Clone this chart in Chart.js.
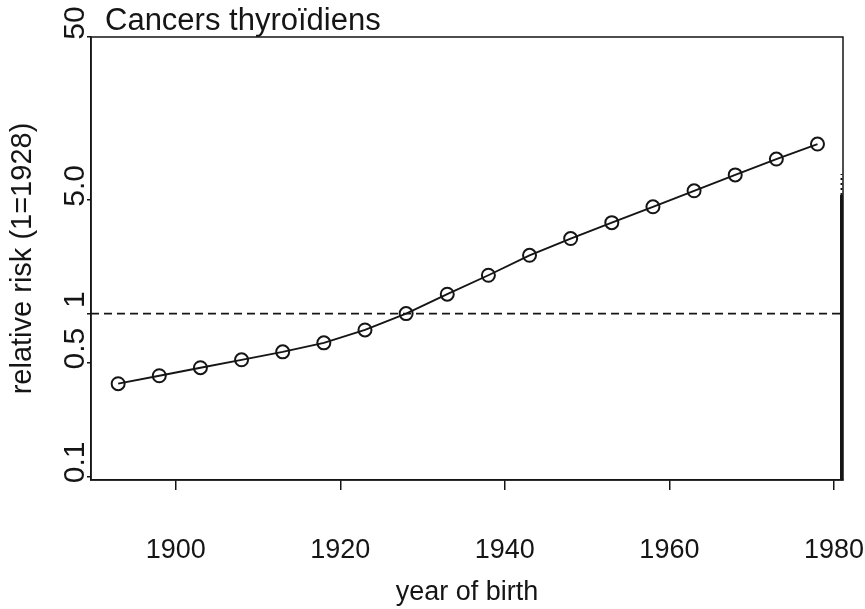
<!DOCTYPE html>
<html>
<head>
<meta charset="utf-8">
<title>Cancers thyroïdiens</title>
<script src="https://cdn.jsdelivr.net/npm/chart.js@4/dist/chart.umd.min.js"></script>
<style>
  html, body { margin: 0; padding: 0; background: #fff; }
</style>
</head>
<body>
<canvas id="chart" width="865" height="609"></canvas>
<script>
// data
const chartTitle = 'Cancers thyroïdiens';
const birthYears = [1893, 1898, 1903, 1908, 1913, 1918, 1923, 1928, 1933,
                    1938, 1943, 1948, 1953, 1958, 1963, 1968, 1973, 1978];
const relativeRisk = [0.371, 0.415, 0.465, 0.52, 0.582, 0.661, 0.793, 1.0, 1.315,
                      1.72, 2.28, 2.89, 3.62, 4.53, 5.68, 7.11, 8.9, 11.0];
const referenceRisk = 1;
const xTicks = [1900, 1920, 1940, 1960, 1980];
const yTicks = [0.1, 0.5, 1, 5, 50];
const yTickLabels = ['0.1', '0.5', '1', '5.0', '50'];
const xRange = [1889.7, 1981.1];
const yRange = [0.095, 50];
// scan artefact along the right border (risk values where it starts)
const edgeSolidTo = 5.36;
const edgeDottedTo = 7.2;

const FONT = "'Liberation Sans', Arial, Helvetica, sans-serif";
const INK = '#151515';

const frame = {
    id: 'frame',
    afterDatasetsDraw(chart) {
        const { ctx, chartArea: a, scales } = chart;
        ctx.save();
        ctx.strokeStyle = INK;
        ctx.lineWidth = 1.5;
        ctx.strokeRect(a.left, a.top, a.right - a.left, a.bottom - a.top);

        // thick bit on the right border
        const x = a.right - 1.5;
        ctx.lineWidth = 3;
        ctx.beginPath();
        ctx.moveTo(x, a.bottom);
        ctx.lineTo(x, scales.y.getPixelForValue(edgeSolidTo));
        ctx.stroke();
        ctx.lineWidth = 2;
        ctx.setLineDash([2, 3]);
        ctx.beginPath();
        ctx.moveTo(x, scales.y.getPixelForValue(edgeSolidTo));
        ctx.lineTo(x, scales.y.getPixelForValue(edgeDottedTo));
        ctx.stroke();
        ctx.restore();
    },
    afterDraw(chart) {
        const { ctx, chartArea } = chart;
        ctx.save();
        ctx.font = `31px ${FONT}`;
        ctx.fillStyle = INK;
        ctx.textBaseline = 'alphabetic';
        ctx.fillText(chartTitle, chartArea.left + 14, 30);
        ctx.restore();
    }
};

// keep the plot box where the figure has it, labels may overhang
function noOverhang(s) {
    s.paddingLeft = 0;
    s.paddingRight = 0;
    s.paddingTop = 0;
    s.paddingBottom = 0;
}

const ctx = document.getElementById('chart').getContext('2d');
new Chart(ctx, {
    type: 'line',
    data: {
        datasets: [
            {
                label: 'relative risk',
                data: birthYears.map((x, i) => ({ x, y: relativeRisk[i] })),
                borderColor: INK,
                borderWidth: 1.9,
                pointRadius: 6.5,
                pointHoverRadius: 6.5,
                pointBorderWidth: 2,
                pointBorderColor: INK,
                pointBackgroundColor: 'rgba(0,0,0,0)',
                tension: 0
            },
            {
                label: 'reference',
                data: [{ x: xRange[0], y: referenceRisk }, { x: xRange[1], y: referenceRisk }],
                borderColor: INK,
                borderWidth: 1.7,
                borderDash: [8, 5],
                pointRadius: 0
            }
        ]
    },
    options: {
        responsive: false,
        animation: false,
        devicePixelRatio: 1,
        layout: { padding: { top: 37, right: 22, left: 0, bottom: 0 } },
        plugins: { legend: { display: false }, tooltip: { enabled: false } },
        scales: {
            x: {
                type: 'linear',
                min: xRange[0],
                max: xRange[1],
                afterBuildTicks: s => { s.ticks = xTicks.map(v => ({ value: v })); },
                afterFit: s => { s.height = 129; noOverhang(s); },
                ticks: {
                    autoSkip: false,
                    maxRotation: 0,
                    padding: 44,
                    color: INK,
                    font: { family: FONT, size: 27 },
                    callback: v => String(v)
                },
                grid: { drawOnChartArea: false, tickLength: 10, color: INK, lineWidth: 1.5 },
                border: { display: true, color: INK, width: 1.5 },
                title: {
                    display: true,
                    text: 'year of birth',
                    color: INK,
                    font: { family: FONT, size: 27 },
                    padding: { top: 0, bottom: 0 }
                }
            },
            y: {
                type: 'logarithmic',
                min: yRange[0],
                max: yRange[1],
                afterBuildTicks: s => { s.ticks = yTicks.map(v => ({ value: v })); },
                afterFit: s => { s.width = 91; noOverhang(s); },
                ticks: {
                    autoSkip: false,
                    minRotation: 90,
                    maxRotation: 90,
                    crossAlign: 'center',
                    labelOffset: -14,
                    padding: -10,
                    color: INK,
                    font: { family: FONT, size: 30 },
                    callback: (v, i) => yTickLabels[i]
                },
                grid: { drawOnChartArea: false, tickLength: 4, color: INK, lineWidth: 1.5 },
                border: { display: true, color: INK, width: 1.5 },
                title: {
                    display: true,
                    text: 'relative risk (1=1928)',
                    color: INK,
                    font: { family: FONT, size: 29 },
                    padding: { top: 6, bottom: 0 }
                }
            }
        }
    },
    plugins: [frame]
});
</script>
</body>
</html>
